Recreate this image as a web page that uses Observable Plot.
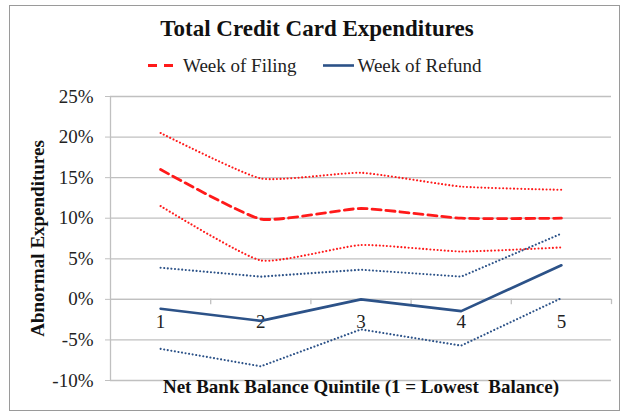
<!DOCTYPE html>
<html>
<head>
<meta charset="utf-8">
<script src="https://cdn.jsdelivr.net/npm/d3@7"></script>
<script src="https://cdn.jsdelivr.net/npm/@observablehq/plot@0.6"></script>
<style>
  html, body { margin: 0; padding: 0; background: #fff; }
  #wrap { position: relative; width: 625px; height: 420px; overflow: hidden; font-family: "Liberation Serif", "Times New Roman", serif; }
  #frame { position: absolute; left: 9px; top: 5px; width: 611px; height: 406px; border: 1.5px solid #9a9a9a; box-sizing: border-box; }
  #chart { position: absolute; left: 0; top: 0; }
  #title { position: absolute; left: 0; width: 634px; top: 17px; text-align: center; font-size: 23px; line-height: 23px; font-weight: bold; color: #111; }
  #legend { position: absolute; left: 148px; top: 56px; height: 19px; display: flex; align-items: center; font-size: 19px; line-height: 19px; color: #222; }
  #legend svg { display: block; }
</style>
</head>
<body>
<div id="wrap">
  <div id="frame"></div>
  <div id="chart"></div>
  <div id="title"></div>
  <div id="legend"></div>
</div>
<script>
// ---- data ----
const quintiles   = [1, 2, 3, 4, 5];
const filingMean  = [0.160, 0.099, 0.112, 0.100, 0.100];
const filingUpper = [0.205, 0.149, 0.156, 0.139, 0.135];
const filingLower = [0.115, 0.048, 0.067, 0.059, 0.064];
const refundMean  = [-0.0115, -0.0265, 0.000, -0.0145, 0.042];
const refundUpper = [0.039, 0.028, 0.0365, 0.028, 0.081];
const refundLower = [-0.061, -0.0825, -0.037, -0.057, 0.0015];
const yTicks = [-0.10, -0.05, 0, 0.05, 0.10, 0.15, 0.20, 0.25];
const seriesNames = ["Week of Filing", "Week of Refund"];
const chartTitle = "Total Credit Card Expenditures";
const xTitle = "Net Bank Balance Quintile (1 = Lowest  Balance)";
const yTitle = "Abnormal Expenditures";

const RED = "#ff1a1a";
const BLUE = "#2c5288";
const GRID = "#c0c0c0";
const DOT = "0.01,3.6";

const rows = arr => quintiles.map((q, i) => ({q, v: arr[i]}));
const boundaries = quintiles.map(q => q + 0.5);
const pct = d => `${Math.round(d * 100)}%`;
const dotted = {strokeWidth: 2.1, strokeDasharray: DOT, strokeLinecap: "round"};

const chart = Plot.plot({
  width: 625,
  height: 420,
  marginLeft: 110,
  marginRight: 14,
  marginTop: 96,
  marginBottom: 40,
  style: {fontFamily: "Liberation Serif, Times New Roman, serif", fontSize: "19px", color: "#222", background: "transparent"},
  x: {domain: [quintiles[0] - 0.5, quintiles[quintiles.length - 1] + 0.5], axis: null},
  y: {domain: [yTicks[0], yTicks[yTicks.length - 1]], axis: null},
  marks: [
    Plot.gridY(yTicks, {stroke: GRID, strokeOpacity: 1, strokeWidth: 1.3}),
    Plot.axisY(yTicks, {tickSize: 5, tickPadding: 12, tickFormat: pct, stroke: GRID, strokeOpacity: 1, fill: "#222", fontSize: 19, label: null}),
    Plot.ruleX([quintiles[0] - 0.5], {stroke: GRID, strokeWidth: 1.3}),
    Plot.ruleY([0], {stroke: GRID, strokeWidth: 1.3}),
    Plot.ruleX(boundaries, {y1: 0, y2: -0.0065, stroke: GRID, strokeWidth: 1.3}),
    Plot.text(quintiles, {x: d => d, y: 0, dy: 23, text: d => String(d), fill: "#222", fontSize: 19}),
    // Week of Filing
    Plot.line(rows(filingUpper), {x: "q", y: "v", stroke: RED, ...dotted, curve: "cardinal", tension: 0.5}),
    Plot.line(rows(filingLower), {x: "q", y: "v", stroke: RED, ...dotted, curve: "cardinal", tension: 0.5}),
    Plot.line(rows(filingMean), {x: "q", y: "v", stroke: RED, strokeWidth: 2.8, strokeDasharray: "9,5", curve: "cardinal", tension: 0.5}),
    // Week of Refund
    Plot.line(rows(refundUpper), {x: "q", y: "v", stroke: BLUE, ...dotted}),
    Plot.line(rows(refundLower), {x: "q", y: "v", stroke: BLUE, ...dotted}),
    Plot.line(rows(refundMean), {x: "q", y: "v", stroke: BLUE, strokeWidth: 2.6}),
    // axis titles
    Plot.text([yTitle], {frameAnchor: "left", textAnchor: "middle", dx: -73, rotate: -90, fontWeight: "bold", fontSize: 19, fill: "#111"}),
    Plot.text([xTitle], {frameAnchor: "bottom", dy: 12, fontWeight: "bold", fontSize: 19, fill: "#111"})
  ]
});
document.getElementById("chart").appendChild(chart);

document.getElementById("title").textContent = chartTitle;

// legend
const legend = d3.select("#legend");
const item = (dash, color, width, lineW, gapAfterMarker, label, marginRight) => {
  const s = legend.append("svg").attr("width", width).attr("height", 19).style("margin-right", gapAfterMarker + "px");
  s.append("line").attr("x1", 0).attr("x2", width).attr("y1", 9.5).attr("y2", 9.5)
    .attr("stroke", color).attr("stroke-width", lineW).attr("stroke-dasharray", dash);
  legend.append("span").text(label).style("margin-right", marginRight + "px");
};
item("9,7", RED, 25, 2.8, 10, seriesNames[0], 26);
item(null, BLUE, 31, 2.6, 4, seriesNames[1], 0);
</script>
</body>
</html>
